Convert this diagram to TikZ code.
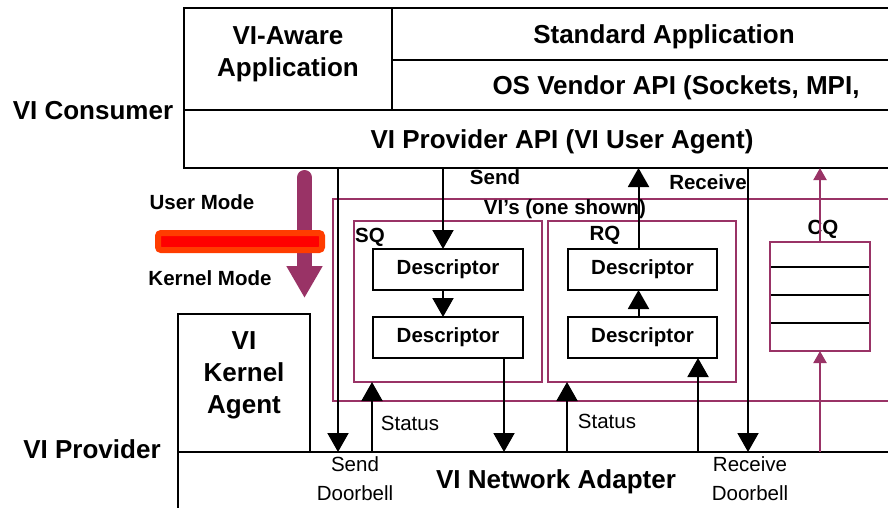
\documentclass[tikz,border=0pt]{standalone}
\usepackage{fontspec}
\setmainfont{Liberation Sans}
\usetikzlibrary{arrows.meta}

\definecolor{viplum}{RGB}{153,51,102}
\definecolor{barred}{RGB}{255,0,0}
\definecolor{barrim}{RGB}{255,60,0}

\tikzset{
  big/.style={font=\fontsize{26}{32}\selectfont\bfseries, align=center},
  mid/.style={font=\fontsize{20.5}{24}\selectfont\bfseries},
  small/.style={font=\fontsize{20.5}{29}\selectfont, align=center},
  box/.style={draw, line width=2pt, inner sep=0pt, outer sep=0pt},
  rowbox/.style={box, big, text height=22pt, text depth=3pt},
  qbox/.style={draw=viplum, line width=2pt, inner sep=0pt, outer sep=0pt},
  ar/.style={line width=2pt, -{Triangle[length=19pt,width=21pt]}},
  par/.style={viplum, line width=2pt, -{Triangle[length=12pt,width=13pt]}},
  modearrow/.style={viplum, line width=15pt, line cap=round, -{Triangle[length=32pt,width=34pt]}},
  redbar/.style={fill=barred, draw=barrim, line width=6pt, rounded corners=3pt, inner sep=0pt},
}

\begin{document}
\begin{tikzpicture}[x=1pt,y=-1pt]
        \useasboundingbox (0,0) rectangle (888,508);
        \clip (0,0) rectangle (888,508);

        % consumer layers
        \node[box, minimum width=208pt, minimum height=102pt] at (288,59) (vaware) {};
        \node[big] at (288,54) (vawaretext) {VI-Aware\\Application};
        \node[rowbox, minimum width=544pt, minimum height=52pt] at (664,34) (stdapp) {Standard Application};
        \node[rowbox, minimum width=568pt, minimum height=50pt] at (676,85) (osapi) {OS Vendor API (Sockets, MPI,};
        \node[rowbox, minimum width=756pt, minimum height=58pt] at (562,139) (provapi) {VI Provider API (VI User Agent)};
        \node[big] at (93,111) (consumer) {VI Consumer};

        % provider layers
        \node[box, minimum width=132pt, minimum height=138pt] at (244,383) (kagent) {};
        \node[big] at (244,375) (kagenttext) {VI\\Kernel\\Agent};
        \node[box, minimum width=800pt, minimum height=120pt] at (578,512) (adapter) {};
        \node[big] at (556,482) (adaptertext) {VI Network Adapter};
        \node[big] at (92,449) (provider) {VI Provider};

        % user / kernel boundary
        \coordinate (modetop) at (304.5,177.5);
        \coordinate (modetip) at (304.5,298);
        \draw[modearrow] (modetop) -- (modetip);
        \node[redbar, minimum width=164pt, minimum height=17pt] at (240,241.5) (modebar) {};
        \node[mid] at (202,202) (usermode) {User Mode};
        \node[mid] at (210,278) (kernelmode) {Kernel Mode};

        % VI with its queues
        \node[qbox, minimum width=600pt, minimum height=202pt] at (633,300) (vis) {};
        \node[mid] at (565,209) (vistext) {VI’s (one shown)};
        \node[qbox, minimum width=188pt, minimum height=161pt] at (448,301.5) (sq) {};
        \node[mid] at (370,237) (sqtext) {SQ};
        \node[qbox, minimum width=188pt, minimum height=161pt] at (642,301.5) (rq) {};
        \node[mid] at (605,235) (rqtext) {RQ};
        \node[box, mid, minimum width=150pt, minimum height=41pt] at (448,269.5) (sqda) {Descriptor};
        \node[box, mid, minimum width=150pt, minimum height=41pt] at (448,337.5) (sqdb) {Descriptor};
        \node[box, mid, minimum width=149pt, minimum height=41pt] at (642.5,269.5) (rqda) {Descriptor};
        \node[box, mid, minimum width=149pt, minimum height=41pt] at (642.5,337.5) (rqdb) {Descriptor};

        % completion queue
        \foreach \y in {267,295,323}
            \draw[line width=2pt] (771,\y) -- (869,\y);
        \node[qbox, minimum width=100pt, minimum height=109pt] at (820,296.5) (cq) {};
        \node[mid] at (823,229) (cqtext) {CQ};

        % doorbells and data paths
        \coordinate (sendx) at (443,0);
        \coordinate (recvx) at (638.5,0);
        \coordinate (sendbell) at (338,452);
        \coordinate (recvbell) at (748,452);
        \coordinate (sqout) at (504,452);
        \coordinate (statusa) at (372,452);
        \coordinate (statusb) at (567,452);
        \coordinate (rqin) at (698,452);
        \coordinate (cqin) at (820,452);

        \draw[ar] (sendbell|-provapi.south) -- (sendbell);
        \draw[ar] (sendx|-provapi.south) -- (sendx|-sqda.north);
        \draw[ar] (sendx|-sqda.south) -- (sendx|-sqdb.north);
        \draw[ar] (sqout|-sqdb.south) -- (sqout);
        \draw[ar] (statusa) -- (statusa|-sq.south);
        \draw[ar] (statusb) -- (statusb|-rq.south);
        \draw[ar] (rqin) -- (rqin|-rqdb.south);
        \draw[ar] (recvx|-rqdb.north) -- (recvx|-rqda.south);
        \draw[ar] (recvx|-rqda.north) -- (recvx|-provapi.south);
        \draw[ar] (recvbell|-provapi.south) -- (recvbell);
        \draw[par] (cqin) -- (cqin|-cq.south);
        \draw[par] (cq.north) -- (cq.north|-provapi.south);

        \node[mid] at (495,177) (sendtext) {Send};
        \node[mid] at (708,182) (recvtext) {Receive};
        \node[small] at (410,423) (statusatext) {Status};
        \node[small] at (607,421) (statusbtext) {Status};
        \node[small] at (355,478.5) (sendbelltext) {Send\\Doorbell};
        \node[small] at (750,479) (recvbelltext) {Receive\\Doorbell};

    \end{tikzpicture}
\end{document}
